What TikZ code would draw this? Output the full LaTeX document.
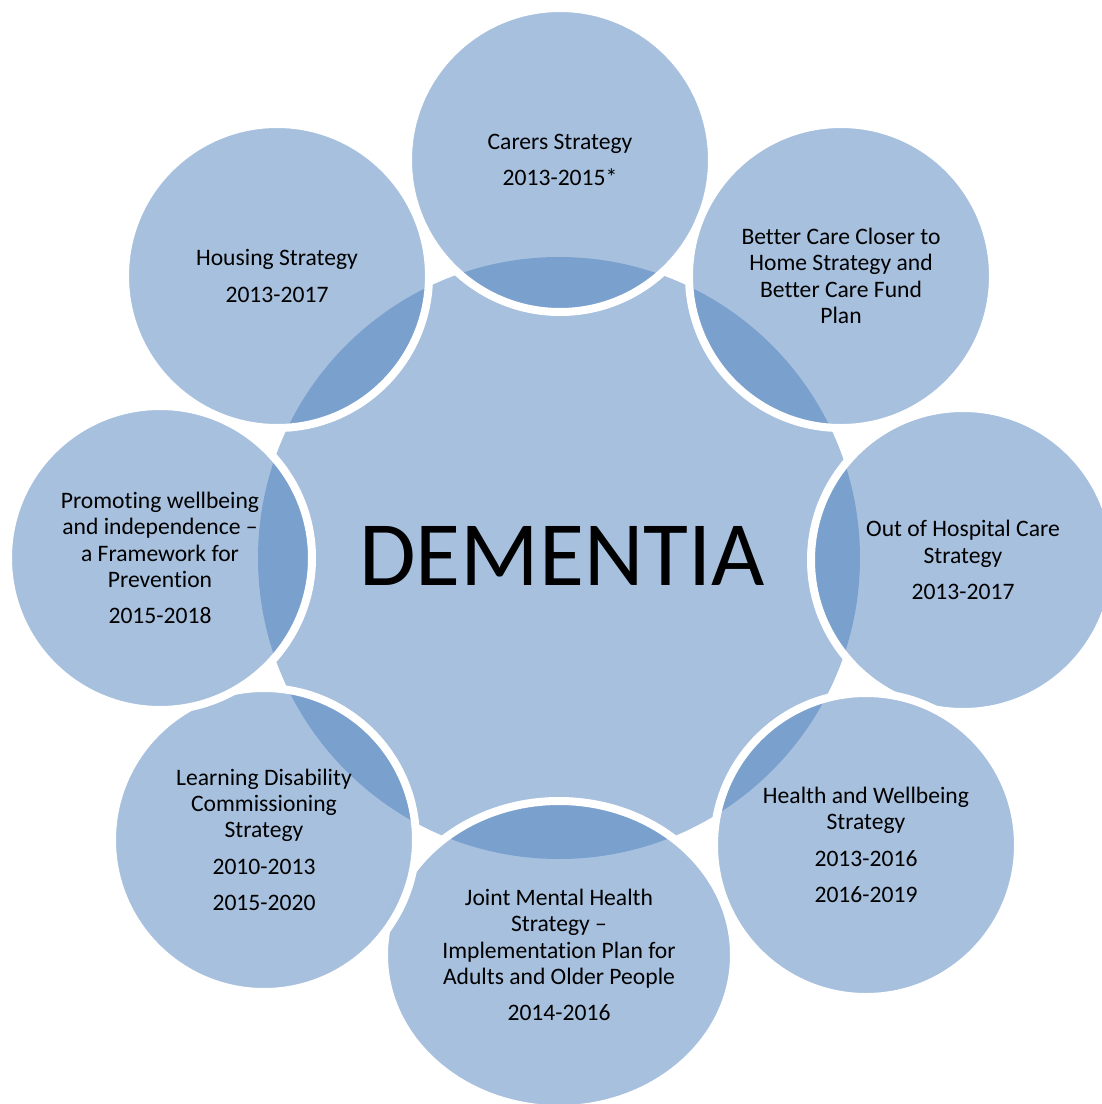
\documentclass[tikz,border=0pt]{standalone}
\usepackage{fontspec}
\setmainfont[Ligatures=NoCommon]{Carlito}
\usetikzlibrary{shapes.geometric}
\definecolor{acc}{RGB}{79,129,189}
\begin{document}
\begin{tikzpicture}[x=1pt,y=-1pt,
  bubble/.style={fill=acc, fill opacity=0.5, text opacity=1, text=black,
    draw=white, line width=8pt, inner sep=0pt, align=center,
    font=\fontsize{23.6}{26.3}\selectfont},
  ball/.style={bubble, circle, minimum size=304pt},
  oval/.style={bubble, ellipse, minimum width=350pt, minimum height=308pt}
]
\useasboundingbox (0,0) rectangle (1102,1104);
\clip (0,0) rectangle (1102,1104);
\node[circle, fill=acc, fill opacity=0.5, minimum size=602pt, inner sep=0pt] (core) at (559,558) {};
\node[font=\fontsize{92}{100}\selectfont, text=black] (title) at (562,556) {DEMENTIA};

\node[ball] (carers) at (560,160) {Carers Strategy\\[10.2pt]2013-2015*};
\node[ball] (better) at (841,276) {Better Care Closer to\\Home Strategy and\\Better Care Fund\\Plan};
\node[ball] (hosp) at (963,560) {Out of Hospital Care\\Strategy\\[10.2pt]2013-2017};
\node[ball] (health) at (866,845) {Health and Wellbeing\\Strategy\\[10.2pt]2013-2016\\[10.2pt]2016-2019};
\node[oval] (joint) at (559,955) {Joint Mental Health\\Strategy --\\Implementation Plan for\\Adults and Older People\\[10.2pt]2014-2016};
\node[ball] (learn) at (264,840) {Learning Disability\\Commissioning\\Strategy\\[10.2pt]2010-2013\\[10.2pt]2015-2020};
\node[ball] (prom) at (160,558) {Promoting wellbeing\\and independence --\\a Framework for\\Prevention\\[10.2pt]2015-2018};
\node[ball] (house) at (277,276) {Housing Strategy\\[10.2pt]2013-2017};
\end{tikzpicture}
\end{document}
